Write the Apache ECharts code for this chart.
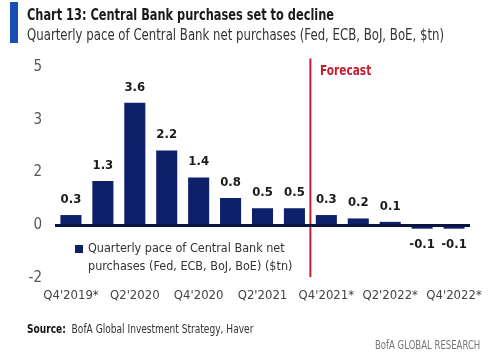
<!DOCTYPE html>
<html>
<head>
<meta charset="utf-8">
<script src="https://cdn.jsdelivr.net/npm/echarts@6/dist/echarts.min.js"></script>
<style>
  html, body { margin: 0; padding: 0; background: #fff; }
  #chart { width: 499px; height: 353px; }
</style>
</head>
<body>
<div id="chart"></div>
<script>
const FONT = '"Liberation Sans Narrow", "DejaVu Sans Condensed", "Noto Sans", sans-serif';

const quarters = ["Q4'2019*", "Q1'2020", "Q2'2020", "Q3'2020", "Q4'2020", "Q1'2021", "Q2'2021",
  "Q3'2021", "Q4'2021*", "Q1'2022*", "Q2'2022*", "Q3'2022*", "Q4'2022*"];
const purchases = [0.3, 1.3, 3.6, 2.2, 1.4, 0.8, 0.5, 0.5, 0.3, 0.2, 0.1, -0.1, -0.1];
// the source chart prints these labels on evenly spaced ticks
const yTickLabels = ['-2', '0', '2', '3', '5'];
const yStep = 1.55;
const forecastAt = 7.5; // boundary between Q3'2021 and Q4'2021*
const seriesName = 'Quarterly pace of Central Bank net\npurchases (Fed, ECB, BoJ, BoE) ($tn)';

const chart = echarts.init(document.getElementById('chart'));

const option = {
  animation: false,
  textStyle: { fontFamily: FONT },
  graphic: [
    { type: 'rect', shape: { x: 10, y: 2, width: 8, height: 41 }, style: { fill: '#1650b4' } },
    { type: 'text', x: 27, y: 8, scaleX: 0.79, style: { text: 'Chart 13: Central Bank purchases set to decline', font: 'bold 16px ' + FONT, fill: '#1a1a1a' } },
    { type: 'text', x: 27, y: 29, scaleX: 0.87, style: { text: 'Quarterly pace of Central Bank net purchases (Fed, ECB, BoJ, BoE, $tn)', font: '15px ' + FONT, fill: '#333' } },
    { type: 'text', x: 320, y: 64, scaleX: 0.84, style: { text: 'Forecast', font: 'bold 14px ' + FONT, fill: '#c41e2e' } },
    { type: 'text', x: 27, y: 324, scaleX: 0.84, style: { rich: { b: { fontWeight: 'bold', fontSize: 12, fontFamily: FONT, fill: '#111' }, n: { fontSize: 12, fontFamily: FONT, fill: '#333' } }, text: '{b|Source:}{n|  BofA Global Investment Strategy, Haver}' } },
    { type: 'text', x: 375, y: 340, scaleX: 0.79, style: { text: 'BofA GLOBAL RESEARCH', font: '12px ' + FONT, fill: '#777' } }
  ],
  legend: {
    left: 75,
    top: 222,
    padding: 0,
    itemWidth: 8,
    itemHeight: 8,
    icon: 'rect',
    data: [seriesName],
    formatter: name => ' \n' + name,
    textStyle: { fontSize: 12.5, color: '#333', lineHeight: 18, fontFamily: FONT }
  },
  grid: { left: 55, right: 29, top: 67, bottom: 75, containLabel: false },
  xAxis: [
    {
      type: 'category',
      data: quarters,
      axisLine: { show: false },
      axisTick: { show: false },
      axisLabel: { interval: 1, color: '#444', fontSize: 13, margin: 11, fontFamily: FONT }
    },
    { type: 'value', show: false, min: -0.5, max: 12.5 }
  ],
  yAxis: {
    type: 'value',
    min: -yStep,
    max: yStep * 3,
    interval: yStep,
    splitLine: { show: false },
    axisLine: { show: false },
    axisTick: { show: false },
    axisLabel: {
      color: '#555',
      fontSize: 15,
      margin: 13,
      fontFamily: FONT,
      formatter: v => yTickLabels[Math.round(v / yStep) + 1] || ''
    }
  },
  series: [
    {
      name: seriesName,
      type: 'bar',
      barCategoryGap: '34%',
      itemStyle: { color: '#0d206b' },
      data: purchases.map(v => ({ value: v, label: { position: v < 0 ? 'bottom' : 'top' } })),
      label: {
        show: true,
        distance: 9,
        fontWeight: 'bold',
        fontSize: 13,
        color: '#1a1a1a',
        fontFamily: FONT,
        formatter: p => p.value.toFixed(1)
      },
      markLine: {
        silent: true,
        symbol: 'none',
        label: { show: false },
        lineStyle: { color: '#0b1340', width: 3, type: 'solid' },
        data: [{ yAxis: 0 }]
      }
    },
    {
      type: 'line',
      xAxisIndex: 1,
      clip: false,
      symbol: 'none',
      silent: true,
      lineStyle: { color: '#c41e2e', width: 2 },
      data: [[forecastAt, -1.52], [forecastAt, 4.9]]
    }
  ]
};

chart.setOption(option);
</script>
</body>
</html>
